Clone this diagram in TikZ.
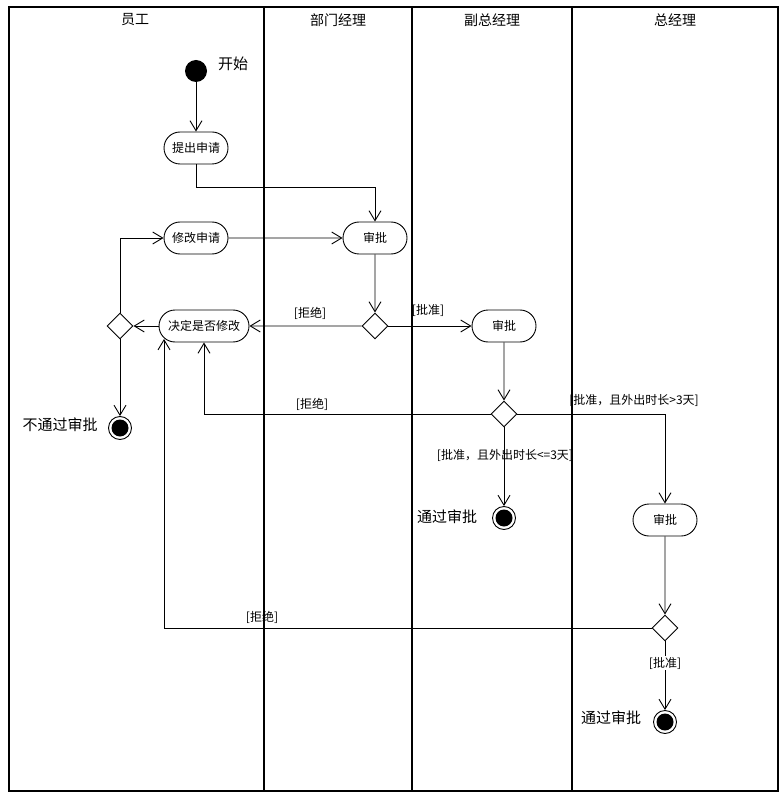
\documentclass[tikz,border=0pt]{standalone}
\usepackage{fontspec}
\setmainfont{Noto Sans CJK SC}
\usetikzlibrary{arrows.meta,shapes.geometric,shapes.misc}
\tikzset{
  act/.style={rounded rectangle, draw, line width=0.9pt, minimum width=68pt, minimum height=32pt, inner xsep=2pt, font=\fontsize{12}{14}\selectfont},
  choice/.style={diamond, draw, line width=0.9pt, minimum width=26pt, minimum height=26pt, inner sep=0pt},
  fin/.style={circle, draw, line width=0.9pt, minimum size=23pt, inner sep=0pt, path picture={\fill (path picture bounding box.center) circle (8.5pt);}},
  lbl/.style={font=\fontsize{12}{14}\selectfont, inner sep=1pt},
  big/.style={font=\fontsize{15}{17}\selectfont, inner sep=1pt},
  arr/.style={line width=0.9pt, -{Straight Barb[length=10pt,width=12pt,line width=0.9pt]}},
}
\begin{document}
\begin{tikzpicture}[x=1pt, y=-1pt]
    \useasboundingbox (0,0) rectangle (782,799);
    % lanes
    \draw[line width=1.3pt] (9,7) rectangle (778,791);
    \foreach \x in {264,412,572} \draw[line width=1.3pt] (\x,7) -- (\x,791);
    \node[big, font=\fontsize{14}{16}\selectfont] (h1) at (135,20) {员工};
    \node[big, font=\fontsize{14}{16}\selectfont] (h2) at (338,20) {部门经理};
    \node[big, font=\fontsize{14}{16}\selectfont] (h3) at (492,20) {副总经理};
    \node[big, font=\fontsize{14}{16}\selectfont] (h4) at (675,20) {总经理};
    % nodes
    \node[circle, fill=black, minimum size=22pt, inner sep=0pt] (s0) at (196,71) {};
    \node[big] (t0) at (233,64) {开始};
    \node[act] (a1) at (196,148) {提出申请};
    \node[act] (a2) at (375,238) {审批};
    \node[act] (a3) at (196,238) {修改申请};
    \node[act, minimum width=92pt, inner xsep=1pt] (a4) at (204,326) {决定是否修改};
    \node[act] (a5) at (504,326) {审批};
    \node[act] (a6) at (665,520) {审批};
    \node[choice] (d1) at (375,326) {};
    \node[choice] (d2) at (120,326) {};
    \node[choice] (d3) at (504,414) {};
    \node[choice] (d4) at (665,628) {};
    \node[fin] (e1) at (120,428) {};
    \node[fin] (e2) at (504,518) {};
    \node[fin] (e3) at (665,722) {};
    \node[big] (t1) at (60,425) {不通过审批};
    \node[big] (t2) at (447,517) {通过审批};
    \node[big] (t3) at (611,718) {通过审批};
    \coordinate (k1) at (164,339);
    % flows
    \draw[arr] (s0) -- (a1);
    \draw[arr] (a1.south) -- ++(0,23) -| (a2.north);
    \draw[arr] (a3) -- (a2);
    \draw[arr] (a2) -- (d1);
    \draw[arr] (d1) -- (a4);
    \draw[arr] (d1) -- (a5);
    \draw[arr] (a4) -- (d2);
    \draw[arr] (d2.north) |- (a3.west);
    \draw[arr] (d2) -- (e1);
    \draw[arr] (a5) -- (d3);
    \draw[arr] (d3.west) -| (a4.south);
    \draw[arr] (d3.east) -| (a6.north);
    \draw[arr] (d3) -- (e2);
    \draw[arr] (a6) -- (d4);
    \draw[arr] (d4.west) -| (k1);
    \draw[arr] (d4) -- (e3);
    % guards
    \node[lbl] (g1) at (310,313) {[拒绝]};
    \node[lbl] (g2) at (428,310) {[批准]};
    \node[lbl] (g3) at (312,404) {[拒绝]};
    \node[lbl] (g4) at (634,400) {[批准，且外出时长>3天]};
    \node[lbl] (g5) at (505,455) {[批准，且外出时长<=3天]};
    \node[lbl] (g6) at (262,617) {[拒绝]};
    \node[lbl, fill=white] (g7) at (665,663) {[批准]};
\end{tikzpicture}
\end{document}
